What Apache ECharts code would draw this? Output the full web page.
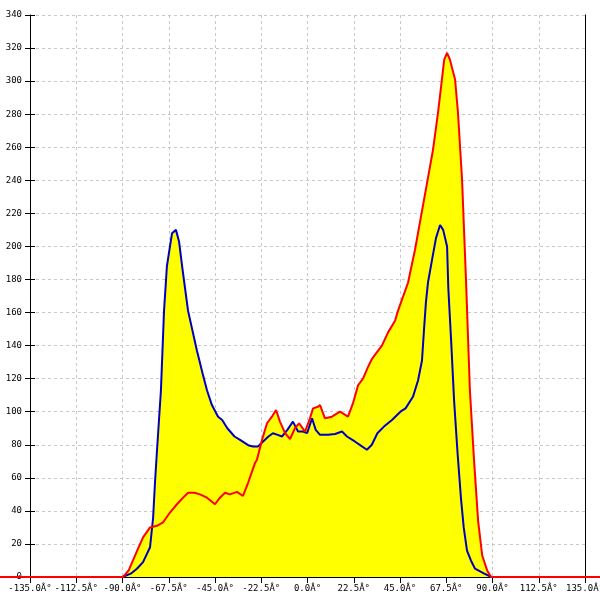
<!DOCTYPE html>
<html>
<head>
<meta charset="utf-8">
<script src="https://cdn.jsdelivr.net/npm/echarts@6/dist/echarts.min.js"></script>
<style>html,body{margin:0;padding:0;background:#fff}#c{width:600px;height:600px}</style>
</head>
<body>
<div id="c"></div>
<script>
// ---- data ----
const blueAngles = [-90,-86,-83,-80,-76.6,-75.1,-74.2,-73.2,-71.3,-69.8,-68.4,-65.9,-64,-62.5,-61,-58.1,-53.8,-51,-48.9,-46.5,-43.5,-41.5,-39,-35.5,-32.8,-28.5,-26.5,-24.1,-21.6,-19,-16.8,-14.5,-12.4,-9.8,-7.1,-4.6,-2.2,-0.2,2.2,4,6.1,10,13.4,16.8,19.2,23,26.5,28.9,31.3,34,37.2,41.1,45.2,47.7,51.3,53.8,55.7,56.7,57.6,58.6,60.6,62.5,64.5,66,67.9,68.5,70,71.3,73,74.7,76,77.6,79.5,81.5,86,89.5];
const blueValues = [0,2,5,9,18,36,57,77,113,161,188,208,210,203,188,161,137,123,113,104,97,95,90,85,83,79.5,79,79,82,85,87,86,85,89,94,88,88,87,96,89,86,86,86.5,88,85,82,79,77,80,87,91,95,100,102,109,119,131,150,166,178,192,205,213,210,200,175,140,107,75,47,30,16,10,5,2,0];
const redAngles = [-150,-89.7,-87,-84.9,-82.5,-80,-76.6,-73.2,-70.3,-66.9,-63.5,-60.5,-58.1,-55,-52.3,-48.9,-45,-42.6,-40.1,-37.7,-34.3,-31.4,-28.9,-25.5,-24.6,-22.1,-19.7,-17.3,-15.3,-13.4,-10.9,-8.5,-6.1,-4.1,-1.2,1.2,2.7,5.1,6.1,8.5,11.9,15.8,19.7,22.1,24.6,27,29.4,31.4,33.8,36.2,39.2,42.6,44,46,48.9,52.3,55.2,58.1,61,63.5,65.4,66.5,67.9,69.3,71.8,73.2,75.2,77.1,79,81,83,85,87.4,89.3,150];
const redValues = [0,0,4,10,17,24,30,31,33,39,44,48,51,51,50,48,44,48,51,50,51.5,49,57,69,71,83,93,97,101,94,87,83.5,90,93,88,96,102,103,104,96,97,100,97,105,116,120,127,132,136,140,148,155,161,168,178,198,218,238,258,281,301,313,317,313,301,281,240,180,113,71,34,13,4,0,0];
const xMin = -135, xMax = 135, xStep = 22.5;
const yMin = 0, yMax = 340, yStep = 20;
const degSuffix = 'Â°';

// layout
const W = 600, gLeft = 30, gRight = 15, gTop = 15, gBottom = 23;
// full-width companion axis with the same scale (the red trace runs to the page edges)
const perPx = (xMax - xMin) / (W - gLeft - gRight);
const xMin2 = xMin - gLeft * perPx, xMax2 = xMax + gRight * perPx;

const pairs = (a, v) => a.map((x, i) => [x, v[i]]);
const blueData = pairs(blueAngles, blueValues);
const redData = pairs(redAngles, redValues);

const chart = echarts.init(document.getElementById('c'), null, {renderer: 'canvas'});
const font = {fontFamily: 'DejaVu Sans Mono', fontSize: 9, color: '#000'};
const dash = {color: '#c8c8c8', type: [3, 3], width: 1};

chart.setOption({
  animation: false,
  backgroundColor: '#fff',
  grid: [
    {left: gLeft, right: gRight, top: gTop, bottom: gBottom, containLabel: false, outerBoundsMode: 'none'},
    {left: 0, right: 0, top: gTop, bottom: gBottom, containLabel: false, outerBoundsMode: 'none'}
  ],
  xAxis: [
    {
      type: 'value', min: xMin, max: xMax, interval: xStep, gridIndex: 0,
      axisLine: {show: true, onZero: false, lineStyle: {color: '#000', width: 1}},
      axisTick: {show: true, length: 6, lineStyle: {color: '#000'}},
      axisLabel: Object.assign({margin: 7, showMinLabel: true, showMaxLabel: true, hideOverlap: false,
        formatter: v => v.toFixed(1) + degSuffix}, font),
      splitLine: {show: true, lineStyle: dash}
    },
    {
      type: 'value', min: xMin2, max: xMax2, gridIndex: 1, show: false
    }
  ],
  yAxis: [
    {
      type: 'value', min: yMin, max: yMax, interval: yStep, position: 'left', gridIndex: 0,
      axisLine: {show: true, onZero: false, lineStyle: {color: '#000', width: 1}},
      axisTick: {show: true, length: 5, lineStyle: {color: '#000'}},
      axisLabel: Object.assign({margin: 8, formatter: v => String(v)}, font),
      splitLine: {show: true, lineStyle: dash}
    },
    {
      type: 'value', min: yMin, max: yMax, interval: yStep, position: 'left', offset: 0, gridIndex: 0,
      axisLine: {show: false, onZero: false},
      axisTick: {show: true, inside: true, length: 5, lineStyle: {color: '#000'}},
      axisLabel: {show: false}, splitLine: {show: false}
    },
    {
      type: 'value', min: yMin, max: yMax, interval: yStep, position: 'right', offset: 0, gridIndex: 0,
      axisLine: {show: true, onZero: false, lineStyle: {color: '#000', width: 1}},
      axisTick: {show: false}, axisLabel: {show: false}, splitLine: {show: false}
    },
    {
      type: 'value', min: yMin, max: yMax, gridIndex: 1, show: false
    }
  ],
  series: [
    {type: 'line', data: blueData, showSymbol: false, symbol: 'none', z: 2,
      lineStyle: {width: 0}, areaStyle: {color: '#ffff00', opacity: 1}},
    {type: 'line', data: redData, showSymbol: false, symbol: 'none', z: 2,
      lineStyle: {width: 0}, areaStyle: {color: '#ffff00', opacity: 1}},
    {type: 'line', data: blueData, showSymbol: false, symbol: 'none', z: 3,
      lineStyle: {color: '#0000c0', width: 2}},
    {type: 'line', data: redData, xAxisIndex: 1, yAxisIndex: 3, showSymbol: false, symbol: 'none', z: 4,
      clip: false, lineStyle: {color: '#ff0000', width: 2}}
  ]
});
</script>
</body>
</html>
